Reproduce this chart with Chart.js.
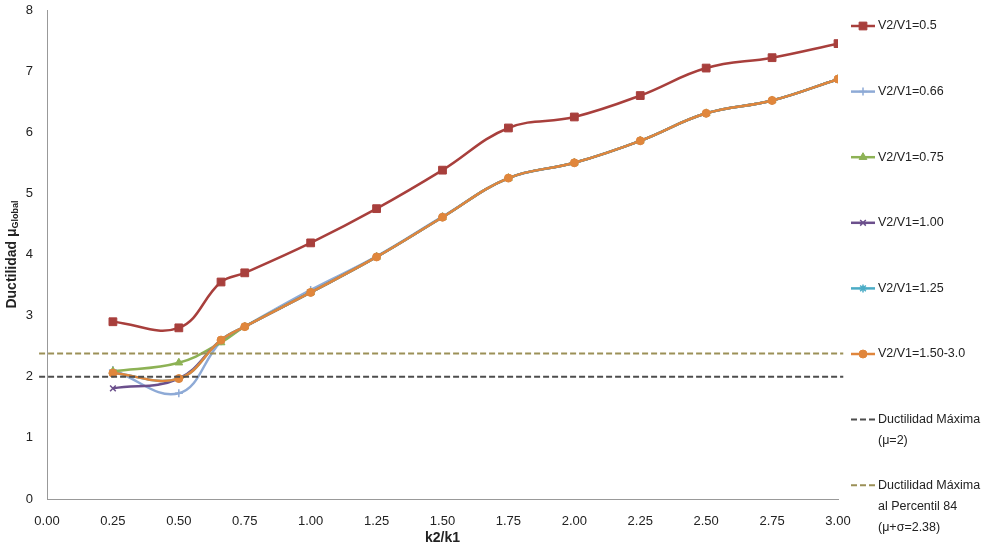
<!DOCTYPE html>
<html>
<head>
<meta charset="utf-8">
<script src="https://cdn.jsdelivr.net/npm/chart.js@4/dist/chart.umd.min.js"></script>
<style>
  html, body { margin: 0; padding: 0; background: #fff; }
  #wrap { position: relative; width: 988px; height: 551px; }
</style>
</head>
<body>
<div id="wrap"><canvas id="ductChart" width="988" height="551"></canvas></div>
<script>
const k2k1 = [0.25, 0.5, 0.66, 0.75, 1.0, 1.25, 1.5, 1.75, 2.0, 2.25, 2.5, 2.75, 3.0];

const v050 = [2.90, 2.80, 3.55, 3.70, 4.19, 4.75, 5.38, 6.07, 6.25, 6.60, 7.05, 7.22, 7.45];
const v066 = [2.11, 1.73, 2.58, 2.82, 3.42, 3.97, 4.62, 5.25, 5.50, 5.86, 6.31, 6.52, 6.87];
const v075 = [2.09, 2.23, 2.56, 2.82, 3.38, 3.96, 4.61, 5.25, 5.50, 5.86, 6.31, 6.52, 6.87];
const v100 = [1.81, 1.97, 2.60, 2.82, 3.38, 3.96, 4.61, 5.25, 5.50, 5.86, 6.31, 6.52, 6.87];
const v125 = [2.06, 1.97, 2.60, 2.82, 3.38, 3.96, 4.61, 5.25, 5.50, 5.86, 6.31, 6.52, 6.87];
const v150 = [2.06, 1.97, 2.60, 2.82, 3.38, 3.96, 4.61, 5.25, 5.50, 5.86, 6.31, 6.52, 6.87];

const muMax = 2;
const muP84 = 2.38;
const xRange = [-0.03, 3.02];

const toPts = ys => ys.map((y, i) => ({ x: k2k1[i], y: y }));

function series(label, ys, color, style, radius) {
    return {
        label: label,
        data: toPts(ys),
        borderColor: color,
        backgroundColor: color,
        borderWidth: 2.5,
        tension: 0.4,
        pointStyle: style,
        pointRadius: radius,
        pointBorderWidth: style === 'cross' || style === 'crossRot' || style === 'star' ? 1.5 : 1,
        fill: false
    };
}

function hline(label, y, color) {
    return {
        label: label,
        data: xRange.map(x => ({ x: x, y: y })),
        borderColor: color,
        backgroundColor: color,
        borderWidth: 2,
        borderDash: [6, 3],
        pointRadius: 0,
        tension: 0,
        fill: false,
        clip: 10
    };
}

const datasets = [
    hline(['Ductilidad Máxima', '(\u03bc=2)'], muMax, '#4d4d4d'),
    hline(['Ductilidad Máxima', 'al Percentil 84', '(\u03bc+\u03c3=2.38)'], muP84, '#9b9057'),
    series('V2/V1=1.50-3.0', v150, '#e0863c', 'circle', 4),
    series('V2/V1=1.25', v125, '#4bacc6', 'star', 4),
    series('V2/V1=1.00', v100, '#6b4f8c', 'crossRot', 4),
    series('V2/V1=0.75', v075, '#8db255', 'triangle', 4.5),
    series('V2/V1=0.66', v066, '#8eaad6', 'cross', 4),
    series('V2/V1=0.5', v050, '#a83f3c', 'rect', 5.5)
];

// legend order: top to bottom as in the picture
const legendOrder = [7, 6, 5, 4, 3, 2, 0, 1];

const customLegend = {
    id: 'customLegend',
    afterDraw(chart) {
        const ctx = chart.ctx;
        const x0 = 851, x1 = 875, tx = 878;
        let y = 26;
        ctx.save();
        legendOrder.forEach(idx => {
            const ds = chart.data.datasets[idx];
            ctx.strokeStyle = ds.borderColor;
            ctx.lineWidth = ds.borderDash ? 2 : 2.5;
            ctx.setLineDash(ds.borderDash || []);
            ctx.beginPath();
            ctx.moveTo(x0, y);
            ctx.lineTo(x1, y);
            ctx.stroke();
            ctx.setLineDash([]);
            if (ds.pointRadius > 0) {
                ctx.fillStyle = ds.backgroundColor;
                ctx.strokeStyle = ds.borderColor;
                ctx.lineWidth = ds.pointBorderWidth;
                Chart.helpers.drawPoint(ctx, {
                    pointStyle: ds.pointStyle,
                    radius: ds.pointRadius,
                    borderWidth: ds.pointBorderWidth,
                    rotation: 0
                }, (x0 + x1) / 2, y);
            }
            ctx.fillStyle = '#222';
            ctx.font = '12.5px "Liberation Sans", Arial, sans-serif';
            ctx.textBaseline = 'middle';
            const lines = Array.isArray(ds.label) ? ds.label : [ds.label];
            lines.forEach((t, i) => ctx.fillText(t, tx, y + i * 21));
            y += 65.6;
        });
        ctx.restore();
    }
};

// y title with subscript
const yTitle = {
    id: 'yTitle',
    afterDraw(chart) {
        const ctx = chart.ctx;
        const area = chart.chartArea;
        ctx.save();
        ctx.translate(12, (area.top + area.bottom) / 2);
        ctx.rotate(-Math.PI / 2);
        ctx.fillStyle = '#222';
        ctx.textBaseline = 'middle';
        const main = 'Ductilidad \u03bc';
        const sub = 'Global';
        ctx.font = 'bold 14px "Liberation Sans", Arial, sans-serif';
        const w1 = ctx.measureText(main).width;
        ctx.font = 'bold 9px "Liberation Sans", Arial, sans-serif';
        const w2 = ctx.measureText(sub).width;
        const start = -(w1 + w2) / 2;
        ctx.font = 'bold 14px "Liberation Sans", Arial, sans-serif';
        ctx.fillText(main, start, 0);
        ctx.font = 'bold 9px "Liberation Sans", Arial, sans-serif';
        ctx.fillText(sub, start + w1, 4);
        ctx.restore();
    }
};

const ctx = document.getElementById('ductChart').getContext('2d');
const ductChart = new Chart(ctx, {
    type: 'line',
    data: { datasets: datasets },
    options: {
        responsive: false,
        animation: false,
        layout: { padding: { top: 10, right: 150, left: 0, bottom: 0 } },
        plugins: {
            legend: { display: false },
            tooltip: { enabled: false }
        },
        scales: {
            x: {
                type: 'linear',
                min: 0,
                max: 3,
                grid: { display: false, drawTicks: false },
                border: { color: '#999', width: 1 },
                ticks: {
                    stepSize: 0.25,
                    padding: 15,
                    color: '#222',
                    font: { family: '"Liberation Sans", Arial, sans-serif', size: 13 },
                    callback: v => v.toFixed(2)
                },
                title: {
                    display: true,
                    text: 'k2/k1',
                    color: '#222',
                    font: { family: '"Liberation Sans", Arial, sans-serif', size: 14, weight: 'bold' },
                    padding: { top: 8 }
                },
                afterFit: s => { s.height = 52; s.paddingLeft = 0; s.paddingRight = 0; }
            },
            y: {
                min: 0,
                max: 8,
                grid: { display: false, drawTicks: false },
                border: { color: '#999', width: 1 },
                ticks: {
                    stepSize: 1,
                    padding: 14,
                    color: '#222',
                    font: { family: '"Liberation Sans", Arial, sans-serif', size: 13 }
                },
                afterFit: s => { s.width = 47; s.paddingTop = 0; s.paddingBottom = 0; }
            }
        }
    },
    plugins: [customLegend, yTitle]
});
</script>
</body>
</html>
